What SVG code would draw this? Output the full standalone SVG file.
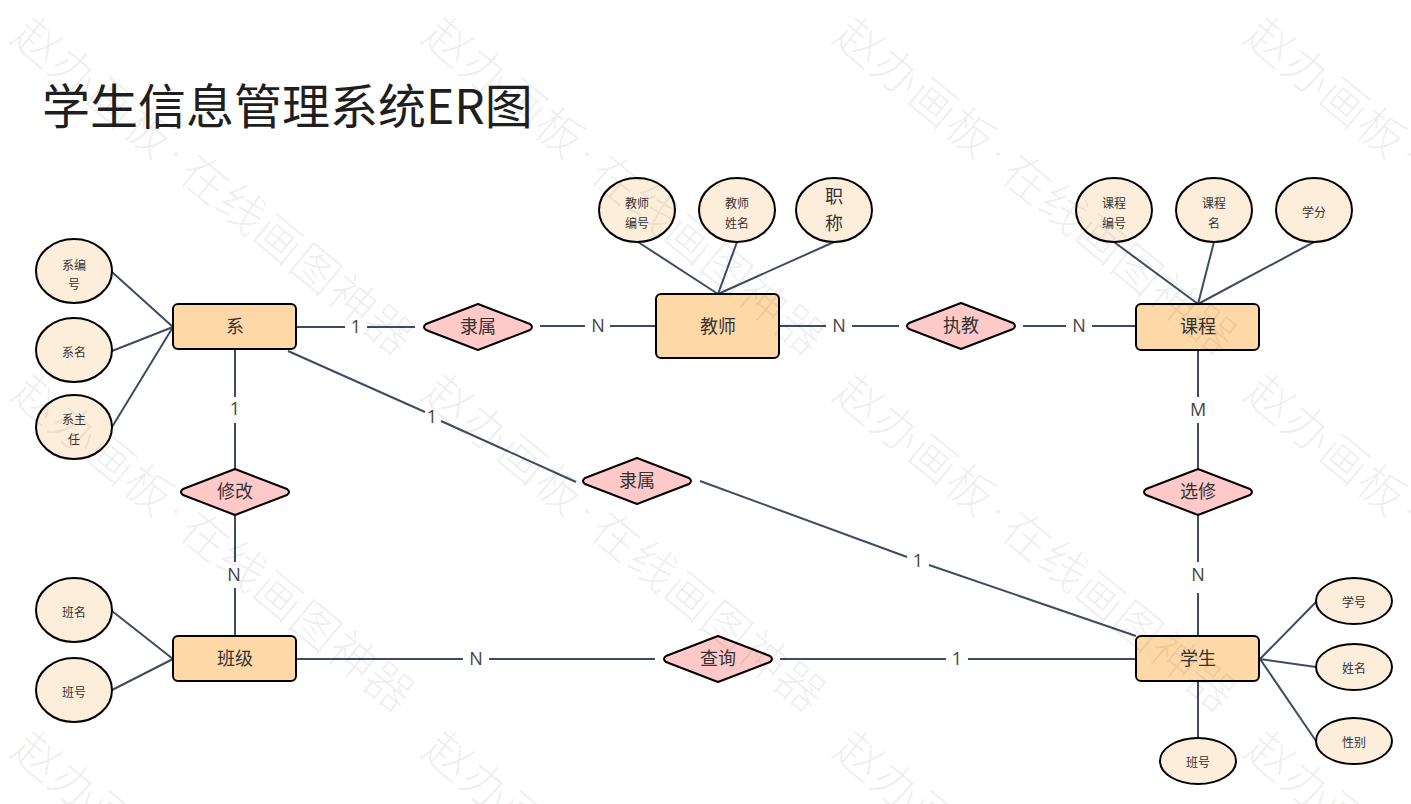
<svg xmlns="http://www.w3.org/2000/svg" xmlns:xlink="http://www.w3.org/1999/xlink" width="1411" height="804" viewBox="0 0 1411 804">
<style>
text{font-family:"Noto Sans CJK SC","Open Sans","Liberation Sans",sans-serif;text-anchor:middle;fill:#333}
.e ellipse{fill:#fdeedb;stroke:#000;stroke-width:2}
.r rect{fill:#ffd8a8;stroke:#000;stroke-width:2}
.d path{fill:#ffc9c9;stroke:#000;stroke-width:2;stroke-linejoin:round}
.s{font-size:12px}
.m{font-size:18px}
.l{font-size:18px;fill:#444;font-family:"Open Sans","Liberation Sans",sans-serif}
#connectors path{fill:none;stroke:#3d4c63;stroke-width:2}
.wm{font-size:47px;fill:#000;fill-opacity:.07;font-weight:300}
</style>
<defs><g id="wm"><text class="wm" transform="translate(38,42) rotate(39.3)" y="17" x="0 47.6 95.2 142.8 178 216 263.6 311.2 358.8 406.4 454">赵办画板<tspan font-size="22" dy="-9">·</tspan><tspan dy="9">在线画图神器</tspan></text></g></defs>
<rect width="1411" height="804" fill="#fff"/>
<text x="42" y="124" style="text-anchor:start;font-size:48px;fill:#1f1f1f">学生信息管理系统ER图</text>
<g id="connectors">
<path d="M112 272L173 327M112 351L173 327M112 427L173 327"/>
<path d="M112 611L173 659M112 690L173 659"/>
<path d="M638 242L718 294M737 242L718 294M834 242L718 294"/>
<path d="M1114 242L1198 304M1214 242L1198 304M1314 242L1198 304"/>
<path d="M1260 659L1316 602M1260 659L1316 667M1260 659L1316 741M1198 682V738"/>
<path d="M297 327H345M367 327H415M540 326H585M610 326H656M780 326H826M852 326H899M1023 326H1066M1092 326H1136"/>
<path d="M235 350V397M235 423V469M235 516V562M235 588V635"/>
<path d="M1198 351V397M1198 423V469M1198 516V562M1198 593V635"/>
<path d="M297 659H463M489 659H655M780 659H946M968 659H1136"/>
<path d="M288 351L425 412M441 421L576 482M700 481L907 557M929 565L1136 636"/>
</g>
<g class="l"><text class="l" x="356" y="333">1</text><text class="l" x="598" y="332">N</text><text class="l" x="839" y="332">N</text><text class="l" x="1079" y="332">N</text><text class="l" x="235" y="415">1</text><text class="l" x="432" y="423">1</text><text class="l" x="234" y="581">N</text><text class="l" x="1198" y="416">M</text><text class="l" x="1198" y="581">N</text><text class="l" x="476" y="665">N</text><text class="l" x="957" y="665">1</text><text class="l" x="918" y="567">1</text></g>
<g id="n-xi" class="r"><rect x="173" y="304" width="123" height="45" rx="5"/><text class="m" x="235" y="333">系</text></g>
<g id="n-banji" class="r"><rect x="173" y="636" width="123" height="45" rx="5"/><text class="m" x="235" y="665">班级</text></g>
<g id="n-jiaoshi" class="r"><rect x="656" y="294" width="123" height="64" rx="5"/><text class="m" x="718" y="333">教师</text></g>
<g id="n-kecheng" class="r"><rect x="1136" y="304" width="123" height="46" rx="5"/><text class="m" x="1198" y="333">课程</text></g>
<g id="n-xuesheng" class="r"><rect x="1136" y="636" width="123" height="45" rx="5"/><text class="m" x="1198" y="665">学生</text></g>
<g id="d-lishu1" class="d"><path d="M426 324L478 304L530 324Q534 327 530 330L478 350L426 330Q422 327 426 324Z"/><text class="m" x="478" y="333">隶属</text></g>
<g id="d-zhijiao" class="d"><path d="M909 323L961 303L1013 323Q1017 326 1013 329L961 349L909 329Q905 326 909 323Z"/><text class="m" x="961" y="332">执教</text></g>
<g id="d-xiugai" class="d"><path d="M183 489L235 469L287 489Q291 492 287 495L235 515L183 495Q179 492 183 489Z"/><text class="m" x="235" y="498">修改</text></g>
<g id="d-lishu2" class="d"><path d="M585 478L637 458L689 478Q693 481 689 484L637 504L585 484Q581 481 585 478Z"/><text class="m" x="637" y="487">隶属</text></g>
<g id="d-xuanxiu" class="d"><path d="M1146 489L1198 469L1250 489Q1254 492 1250 495L1198 515L1146 495Q1142 492 1146 489Z"/><text class="m" x="1198" y="498">选修</text></g>
<g id="d-chaxun" class="d"><path d="M666 656L718 636L770 656Q774 659 770 662L718 682L666 662Q662 659 666 656Z"/><text class="m" x="718" y="665">查询</text></g>
<g id="a1" class="e"><ellipse cx="74" cy="271" rx="38" ry="32"/><text class="s" x="74" y="270">系编</text><text class="s" x="74" y="289">号</text></g>
<g id="a2" class="e"><ellipse cx="74" cy="350" rx="38" ry="32"/><text class="s" x="74" y="357">系名</text></g>
<g id="a3" class="e"><ellipse cx="74" cy="427" rx="38" ry="32"/><text class="s" x="74" y="424">系主</text><text class="s" x="74" y="444">任</text></g>
<g id="a4" class="e"><ellipse cx="74" cy="610" rx="38" ry="32"/><text class="s" x="74" y="617">班名</text></g>
<g id="a5" class="e"><ellipse cx="74" cy="690" rx="38" ry="32"/><text class="s" x="74" y="697">班号</text></g>
<g id="a6" class="e"><ellipse cx="637" cy="210" rx="38" ry="32"/><text class="s" x="637" y="208">教师</text><text class="s" x="637" y="228">编号</text></g>
<g id="a7" class="e"><ellipse cx="737" cy="210" rx="38" ry="32"/><text class="s" x="737" y="208">教师</text><text class="s" x="737" y="228">姓名</text></g>
<g id="a8" class="e"><ellipse cx="834" cy="210" rx="38" ry="32"/><text class="m" x="834" y="203">职</text><text class="m" x="834" y="230">称</text></g>
<g id="a9" class="e"><ellipse cx="1114" cy="210" rx="38" ry="32"/><text class="s" x="1114" y="208">课程</text><text class="s" x="1114" y="228">编号</text></g>
<g id="a10" class="e"><ellipse cx="1214" cy="210" rx="38" ry="32"/><text class="s" x="1214" y="208">课程</text><text class="s" x="1214" y="228">名</text></g>
<g id="a11" class="e"><ellipse cx="1314" cy="210" rx="38" ry="32"/><text class="s" x="1314" y="217">学分</text></g>
<g id="a12" class="e"><ellipse cx="1354" cy="601" rx="38" ry="23"/><text class="s" x="1354" y="607">学号</text></g>
<g id="a13" class="e"><ellipse cx="1354" cy="667" rx="38" ry="23"/><text class="s" x="1354" y="673">姓名</text></g>
<g id="a14" class="e"><ellipse cx="1354" cy="741" rx="38" ry="23"/><text class="s" x="1354" y="747">性别</text></g>
<g id="a15" class="e"><ellipse cx="1198" cy="761" rx="38" ry="23"/><text class="s" x="1198" y="767">班号</text></g>
<use xlink:href="#wm" href="#wm"/><use href="#wm" x="411"/><use href="#wm" x="822"/><use href="#wm" x="1233"/>
<use href="#wm" y="357"/><use href="#wm" x="411" y="357"/><use href="#wm" x="822" y="357"/><use href="#wm" x="1233" y="357"/>
<use href="#wm" y="714"/><use href="#wm" x="411" y="714"/><use href="#wm" x="822" y="714"/><use href="#wm" x="1233" y="714"/>
</svg>
